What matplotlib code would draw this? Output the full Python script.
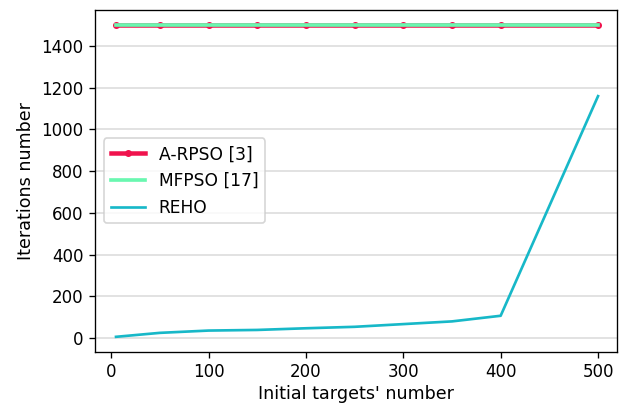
import matplotlib
matplotlib.use("Agg")
import matplotlib.pyplot as plt

targets = [5, 50, 100, 150, 200, 250, 300, 350, 400, 500]
arpso = [1500] * 10
mfpso = [1500] * 10
reho = [5, 24, 35, 38, 46, 53, 66, 79, 106, 1160]

DPI = 120
fig, ax = plt.subplots(figsize=(622 / DPI, 403 / DPI), dpi=DPI)
ax.plot(targets, arpso, color='#f0134d', lw=2.7, marker='o', ms=3.2, label='A-RPSO [3]', zorder=3)
ax.plot(targets, mfpso, color='#6af7b0', lw=2.2, label='MFPSO [17]', zorder=4)
ax.plot(targets, reho, color='#17b8c8', lw=1.6, label='REHO', zorder=3)
ax.set_xlabel("Initial targets' number", fontsize=10.5, labelpad=2)
ax.set_ylabel("Iterations number", fontsize=10.5)
ax.set_xticks([0, 100, 200, 300, 400, 500])
ax.set_yticks([0, 200, 400, 600, 800, 1000, 1200, 1400])
ax.tick_params(labelsize=10)
ax.set_xlim(-16.4, 519.5)
ax.set_ylim(-67, 1573)
ax.yaxis.grid(True, color='#dddddd', lw=1)
ax.set_axisbelow(True)
ax.legend(loc='center left', fontsize=10.3)
fig.subplots_adjust(left=0.153, right=0.992, top=0.975, bottom=0.127)
fig.savefig('out.png', dpi=DPI)
